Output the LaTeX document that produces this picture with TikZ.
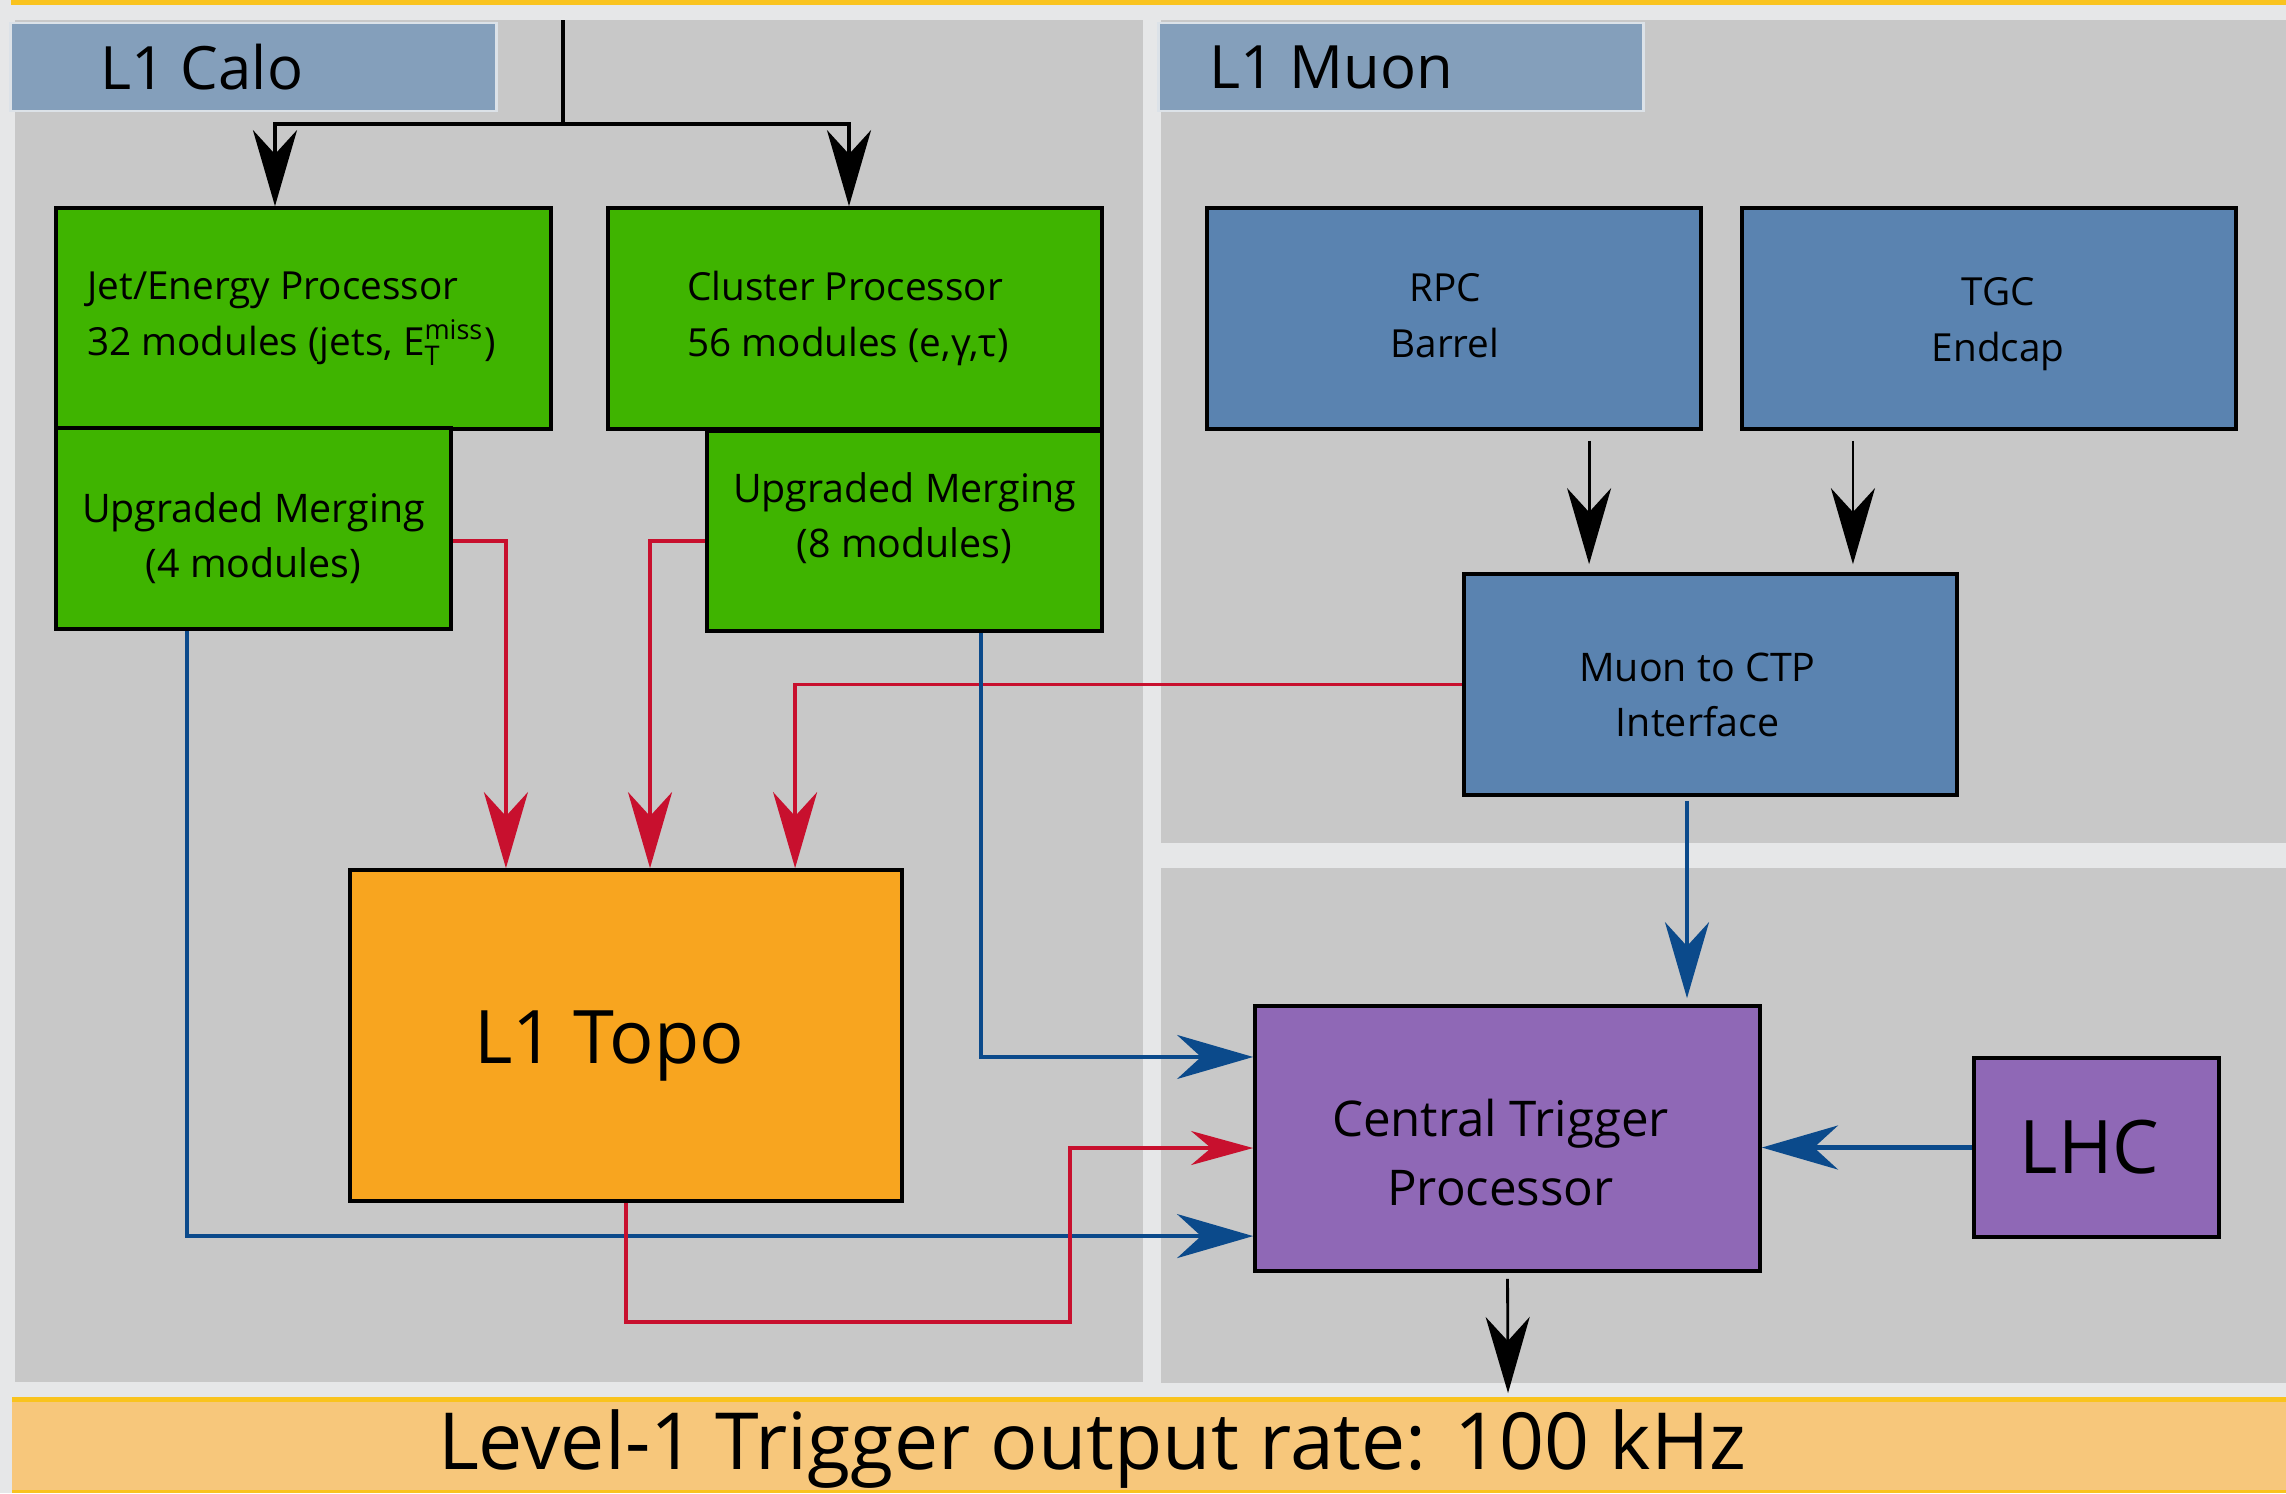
\documentclass[tikz,border=0pt]{standalone}
\usepackage{amsmath}
\usepackage{fontspec}
\setmainfont{Open Sans}
\usetikzlibrary{arrows.meta}
\definecolor{paperbg}{HTML}{E6E7E8}
\definecolor{panelgray}{HTML}{C8C8C8}
\definecolor{tagblue}{HTML}{849FBB}
\definecolor{tagedge}{HTML}{DCE2E8}
\definecolor{calogreen}{HTML}{3FB400}
\definecolor{muonblue}{HTML}{5A83B0}
\definecolor{topoorange}{HTML}{F8A51F}
\definecolor{ctppurple}{HTML}{8F68B6}
\definecolor{linkred}{HTML}{C8102E}
\definecolor{linkblue}{HTML}{0B4A8B}
\definecolor{barfill}{HTML}{F7C77B}
\definecolor{bargold}{HTML}{F9C31E}

\begin{document}
\begin{tikzpicture}[x=0.01cm,y=-0.01cm,
    box/.style={draw=black,line width=1pt,inner sep=0pt,align=center},
    calobox/.style={box,fill=calogreen},
    muonbox/.style={box,fill=muonblue},
    ctpbox/.style={box,fill=ctppurple},
    tagbox/.style={draw=tagedge,line width=0.8pt,fill=tagblue,inner sep=0pt,
      minimum height=0.88cm},
    tagtext/.style={anchor=west,inner sep=0pt,font=\fontsize{17}{18}\selectfont},
    smalltext/.style={font=\fontsize{11}{15.9}\selectfont},
    midtext/.style={font=\fontsize{11.2}{15.6}\selectfont},
    tip/.style={-{Stealth[length=7.6mm,width=4.4mm,inset=2.4mm]}},
    smalltip/.style={-{Stealth[length=6.2mm,width=3.4mm,inset=2mm]}},
    blackline/.style={draw=black,line width=1.1pt},
    redline/.style={draw=linkred,line width=1pt},
    blueline/.style={draw=linkblue,line width=1pt}]
  \useasboundingbox (0,0) rectangle (2286,1493);
  \fill[paperbg] (0,0) rectangle (2286,1493);
  \fill[bargold] (11,0) rectangle (2286,5);
  % panels
  \fill[panelgray] (15,20) rectangle (1143,1382);
  \fill[panelgray] (1161,20) rectangle (2286,843);
  \fill[panelgray] (1161,868) rectangle (2286,1383);
  % output bar
  \fill[barfill] (12,1397) rectangle (2286,1493);
  \fill[bargold] (12,1397) rectangle (2286,1402);
  \fill[bargold] (12,1490) rectangle (2286,1493);
  \node[inner sep=0pt,font=\fontsize{22.4}{24}\selectfont] (rate) at (1092,1449)
    {Level-1 Trigger output rate: 100 kHz};

  % L1 Calo
  \node[tagbox,minimum width=4.85cm,
    label={[tagtext,xshift=0.9cm]west:L1 Calo}] (calotag) at (253.5,67) {};
  \node[calobox,minimum width=4.95cm,minimum height=2.21cm,
    label={[smalltext,align=left,xshift=-0.12cm]center:Jet/Energy Processor\\32 modules (jets, $\text{E}_\text{T}^\text{miss}$)}]
    (jep) at (303.5,318.5) {};
  \node[calobox,minimum width=4.94cm,minimum height=2.21cm,
    label={[smalltext,align=left,xshift=-0.07cm]center:Cluster Processor\\56 modules (e,γ,τ)}]
    (cp) at (855,318.5) {};
  \node[calobox,minimum width=3.95cm,minimum height=2.01cm,
    label={[midtext,align=center,yshift=-0.1cm]center:Upgraded Merging\\(4 modules)}]
    (jmerge) at (253.5,528.5) {};
  \node[calobox,minimum width=3.95cm,minimum height=2cm,
    label={[midtext,align=center,yshift=0.13cm]center:Upgraded Merging\\(8 modules)}]
    (cmerge) at (904.5,531) {};
  \node[box,fill=topoorange,minimum width=5.52cm,minimum height=3.31cm,
    label={[font=\fontsize{21}{24}\selectfont,xshift=-0.17cm,yshift=-0.1cm]center:L1 Topo}]
    (topo) at (626,1035.5) {};

  % L1 Muon
  \node[tagbox,minimum width=4.84cm,
    label={[tagtext,xshift=0.51cm]west:L1 Muon}] (muontag) at (1401,67) {};
  \node[muonbox,minimum width=4.94cm,minimum height=2.21cm,
    label={[smalltext,align=center,xshift=-0.09cm,yshift=0.03cm]center:RPC\\Barrel}]
    (rpc) at (1454,318.5) {};
  \node[muonbox,minimum width=4.94cm,minimum height=2.21cm,
    label={[smalltext,align=center,xshift=0.09cm,yshift=-0.06cm]center:TGC\\Endcap}]
    (tgc) at (1989,318.5) {};
  \node[muonbox,minimum width=4.93cm,minimum height=2.21cm,
    label={[midtext,align=center,xshift=-0.13cm,yshift=-0.1cm]center:Muon to CTP\\Interface}]
    (muctp) at (1710.5,684.5) {};

  % CTP
  \node[ctpbox,minimum width=5.05cm,minimum height=2.65cm,
    label={[font=\fontsize{14}{19.9}\selectfont,align=center,xshift=-0.07cm,yshift=-0.14cm]center:Central Trigger\\Processor}]
    (ctp) at (1507.5,1138.5) {};
  \node[ctpbox,minimum width=2.45cm,minimum height=1.79cm,
    label={[font=\fontsize{21}{24}\selectfont,xshift=-0.07cm]center:LHC}]
    (lhc) at (2096.5,1147.5) {};

  % connectors
  \coordinate (caloin) at (563,20);
  \coordinate (split) at (563,124);
  \draw[blackline] (caloin) -- (split);
  \draw[blackline,tip] (split) -| ([xshift=-0.285cm]jep.north);
  \draw[blackline,tip] (split) -| ([xshift=-0.06cm]cp.north);

  \draw[redline,tip] ([yshift=-0.125cm]jmerge.east) -| ([xshift=-1.2cm]topo.north);
  \draw[redline,tip] ([yshift=-0.1cm]cmerge.west) -| ([xshift=0.24cm]topo.north);
  \draw[redline,tip] (muctp.west) -| ([xshift=1.69cm]topo.north);

  \draw[blueline,tip] ([xshift=-0.665cm]jmerge.south) |- ([yshift=-0.975cm]ctp.west);
  \draw[blueline,tip] ([xshift=0.765cm]cmerge.south) |- ([yshift=0.815cm]ctp.west);

  \coordinate (topoturn) at (1070,1322);
  \draw[redline,smalltip] (topo.south) |- (topoturn) |- ([yshift=-0.095cm]ctp.west);

  \draw[black,line width=0.8pt,tip,shorten <=0.1cm,shorten >=0.08cm]
    ([xshift=1.35cm]rpc.south) -- ([xshift=1.35cm]rpc.south |- muctp.north);
  \draw[black,line width=0.8pt,tip,shorten <=0.1cm,shorten >=0.08cm]
    ([xshift=-1.36cm]tgc.south) -- ([xshift=-1.36cm]tgc.south |- muctp.north);
  \draw[blueline,tip,shorten <=0.04cm,shorten >=0.06cm]
    ([xshift=-0.235cm]muctp.south) -- ([xshift=-0.235cm]muctp.south |- ctp.north);
  \draw[blueline,line width=1.2pt,tip] (lhc.west) -- (lhc.west -| ctp.east);

  \coordinate (l1out) at (1508,1393);
  \draw[black,line width=0.8pt,tip,shorten <=0.06cm] (ctp.south) -- (l1out);
\end{tikzpicture}
\end{document}
